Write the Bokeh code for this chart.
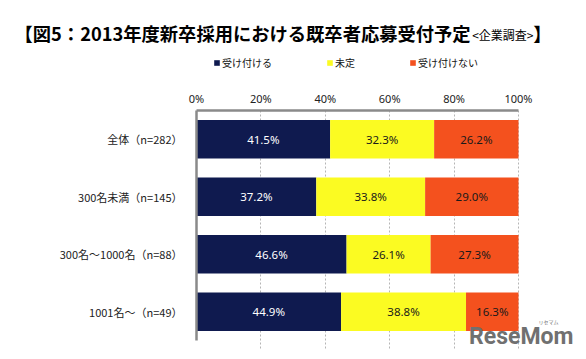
from bokeh.plotting import figure
from bokeh.layouts import column
from bokeh.models import (ColumnDataSource, Range1d, Label, Legend,
                          LegendItem, FixedTicker, PrintfTickFormatter)
from bokeh.core.properties import value
from bokeh.embed import file_html
from bokeh.resources import INLINE

# ---- data ----
categories = ["全体（n=282）", "300名未満（n=145）", "300名～1000名（n=88）", "1001名～（n=49）"]
series_names = ["受け付ける", "未定", "受け付けない"]
accept = [41.5, 37.2, 46.6, 44.9]
undecided = [32.3, 33.8, 26.1, 38.8]
decline = [26.2, 29.0, 27.3, 16.3]
x_ticks = [0, 20, 40, 60, 80, 100]
title_main = "【図5：2013年度新卒採用における既卒者応募受付予定"
title_sub = "<企業調査>"
title_end = "】"
watermark = "ReseMom"
watermark_small = "リセマム"

colors = ["#0f1a4f", "#fbfb22", "#f4511e"]
text_colors = ["#ffffff", "#1a1a1a", "#1a1a1a"]
CJK = "Noto Sans CJK JP"

W = 586
HEAD_H = 84
CHART_H = 359 - HEAD_H
PLOT_L, PLOT_R = 196, 518        # 0% .. 100% in page pixels
FRAME_T, FRAME_B = 110, 350
ROW_PX = 57.5

n = len(categories)
ypos = [i + 0.5 for i in range(n)]  # row slots, first category at top
keys = ["accept", "undecided", "decline"]
src = ColumnDataSource(dict(y=ypos, accept=accept, undecided=undecided, decline=decline))

# ---------------- header (title + legend) ----------------
head = figure(width=W, height=HEAD_H, output_backend="svg", toolbar_location=None,
              x_range=Range1d(0, W), y_range=Range1d(HEAD_H, 0),
              x_axis_location=None, y_axis_location=None, min_border=0)
head.frame_align = False
head.grid.visible = False
head.outline_line_color = None

head.add_layout(Label(x=14, y=32, text=title_main,
                      text_font=CJK, text_font_size="18.3px", text_font_style="bold",
                      text_baseline="middle", text_align="left", text_color="#000000"))
head.add_layout(Label(x=533, y=34, text=title_sub,
                      text_font=CJK, text_font_size="12px",
                      text_baseline="middle", text_align="right", text_color="#000000"))
head.add_layout(Label(x=551, y=32, text=title_end,
                      text_font=CJK, text_font_size="18.3px", text_font_style="bold",
                      text_baseline="middle", text_align="right", text_color="#000000"))

# hidden copies of the series, only used to draw the legend swatches
legend_rs = head.hbar_stack(keys, y="y", height=0.67, color=colors, source=src, line_color=None)
for r in legend_rs:
    r.visible = False
items = [LegendItem(label=nm, renderers=[r]) for nm, r in zip(series_names, legend_rs)]
legend = Legend(items=items, location=(213, HEAD_H - 70), orientation="horizontal",
                glyph_width=7, glyph_height=7, label_standoff=2, spacing=54,
                padding=0, margin=0, border_line_color=None, background_fill_alpha=0,
                label_text_font=CJK, label_text_font_size="10px", label_height=12,
                label_text_color="#111111", inactive_fill_alpha=0)
head.add_layout(legend)

# ---------------- chart ----------------
x_end = 100 * (W - PLOT_L) / (PLOT_R - PLOT_L)
y_end = (FRAME_B - FRAME_T) / ROW_PX
p = figure(width=W, height=CHART_H, output_backend="svg", toolbar_location=None,
           y_range=Range1d(y_end, 0), x_range=Range1d(0, x_end),
           x_axis_location="above",
           min_border_left=PLOT_L, min_border_right=0,
           min_border_top=FRAME_T - HEAD_H, min_border_bottom=359 - FRAME_B)
p.frame_align = False

p.extra_x_ranges = {"px": Range1d(PLOT_L, W)}
p.extra_y_ranges = {"py": Range1d(FRAME_B, FRAME_T)}

rs = p.hbar_stack(keys, y="y", height=0.67, color=colors, source=src, line_color=None)

# segment labels
series_vals = [accept, undecided, decline]
left = [0.0] * n
for vals, tc in zip(series_vals, text_colors):
    xs = [l + v / 2 for l, v in zip(left, vals)]
    ts = [f"{v:.1f}%" for v in vals]
    s = ColumnDataSource(dict(x=xs, y=ypos, t=ts))
    p.text(x="x", y="y", text="t", source=s, text_align="center", text_baseline="middle",
           text_font=value("Noto Sans"), text_font_size="11.5px", text_color=tc)
    left = [l + v for l, v in zip(left, vals)]

# axes
ax = p.xaxis[0]
ax.ticker = FixedTicker(ticks=x_ticks)
ax.bounds = (0, 100)
ax.formatter = PrintfTickFormatter(format="%d%%")
ax.major_tick_line_color = None
ax.minor_tick_line_color = None
ax.major_tick_out = 0
ax.major_tick_in = 0
ax.axis_line_color = "#8a8a8a"
ax.axis_line_width = 2.5
ax.major_label_text_font = "Noto Sans"
ax.major_label_text_font_size = "11px"
ax.major_label_text_color = "#222222"
ax.major_label_standoff = 5

ay = p.yaxis[0]
ay.ticker = FixedTicker(ticks=ypos)
ay.bounds = (0, n)
ay.major_label_overrides = {y: c for y, c in zip(ypos, categories)}
ay.major_tick_line_color = None
ay.minor_tick_line_color = None
ay.major_tick_out = 0
ay.major_tick_in = 0
ay.axis_line_color = "#8a8a8a"
ay.axis_line_width = 2.5
ay.major_label_text_font = CJK
ay.major_label_text_font_size = "11px"
ay.major_label_text_color = "#222222"
ay.major_label_standoff = 14

p.xgrid.ticker = FixedTicker(ticks=x_ticks)
p.xgrid.grid_line_color = "#b5b5b5"
p.xgrid.grid_line_dash = "2 2"
p.xgrid.grid_line_width = 1
p.ygrid.grid_line_color = None
p.outline_line_color = None

# watermark
p.add_layout(Label(x=573, y=336, x_range_name="px", y_range_name="py", text=watermark,
                   text_font="Roboto", text_font_style="bold", text_font_size="23px",
                   text_color="#707070", text_align="right", text_baseline="middle"))
p.add_layout(Label(x=548, y=321, x_range_name="px", y_range_name="py", text=watermark_small,
                   text_font=CJK, text_font_size="5px",
                   text_color="#707070", text_align="center", text_baseline="middle"))

layout = column(head, p, spacing=0)
open("out.html", "w").write(file_html(layout, INLINE))
